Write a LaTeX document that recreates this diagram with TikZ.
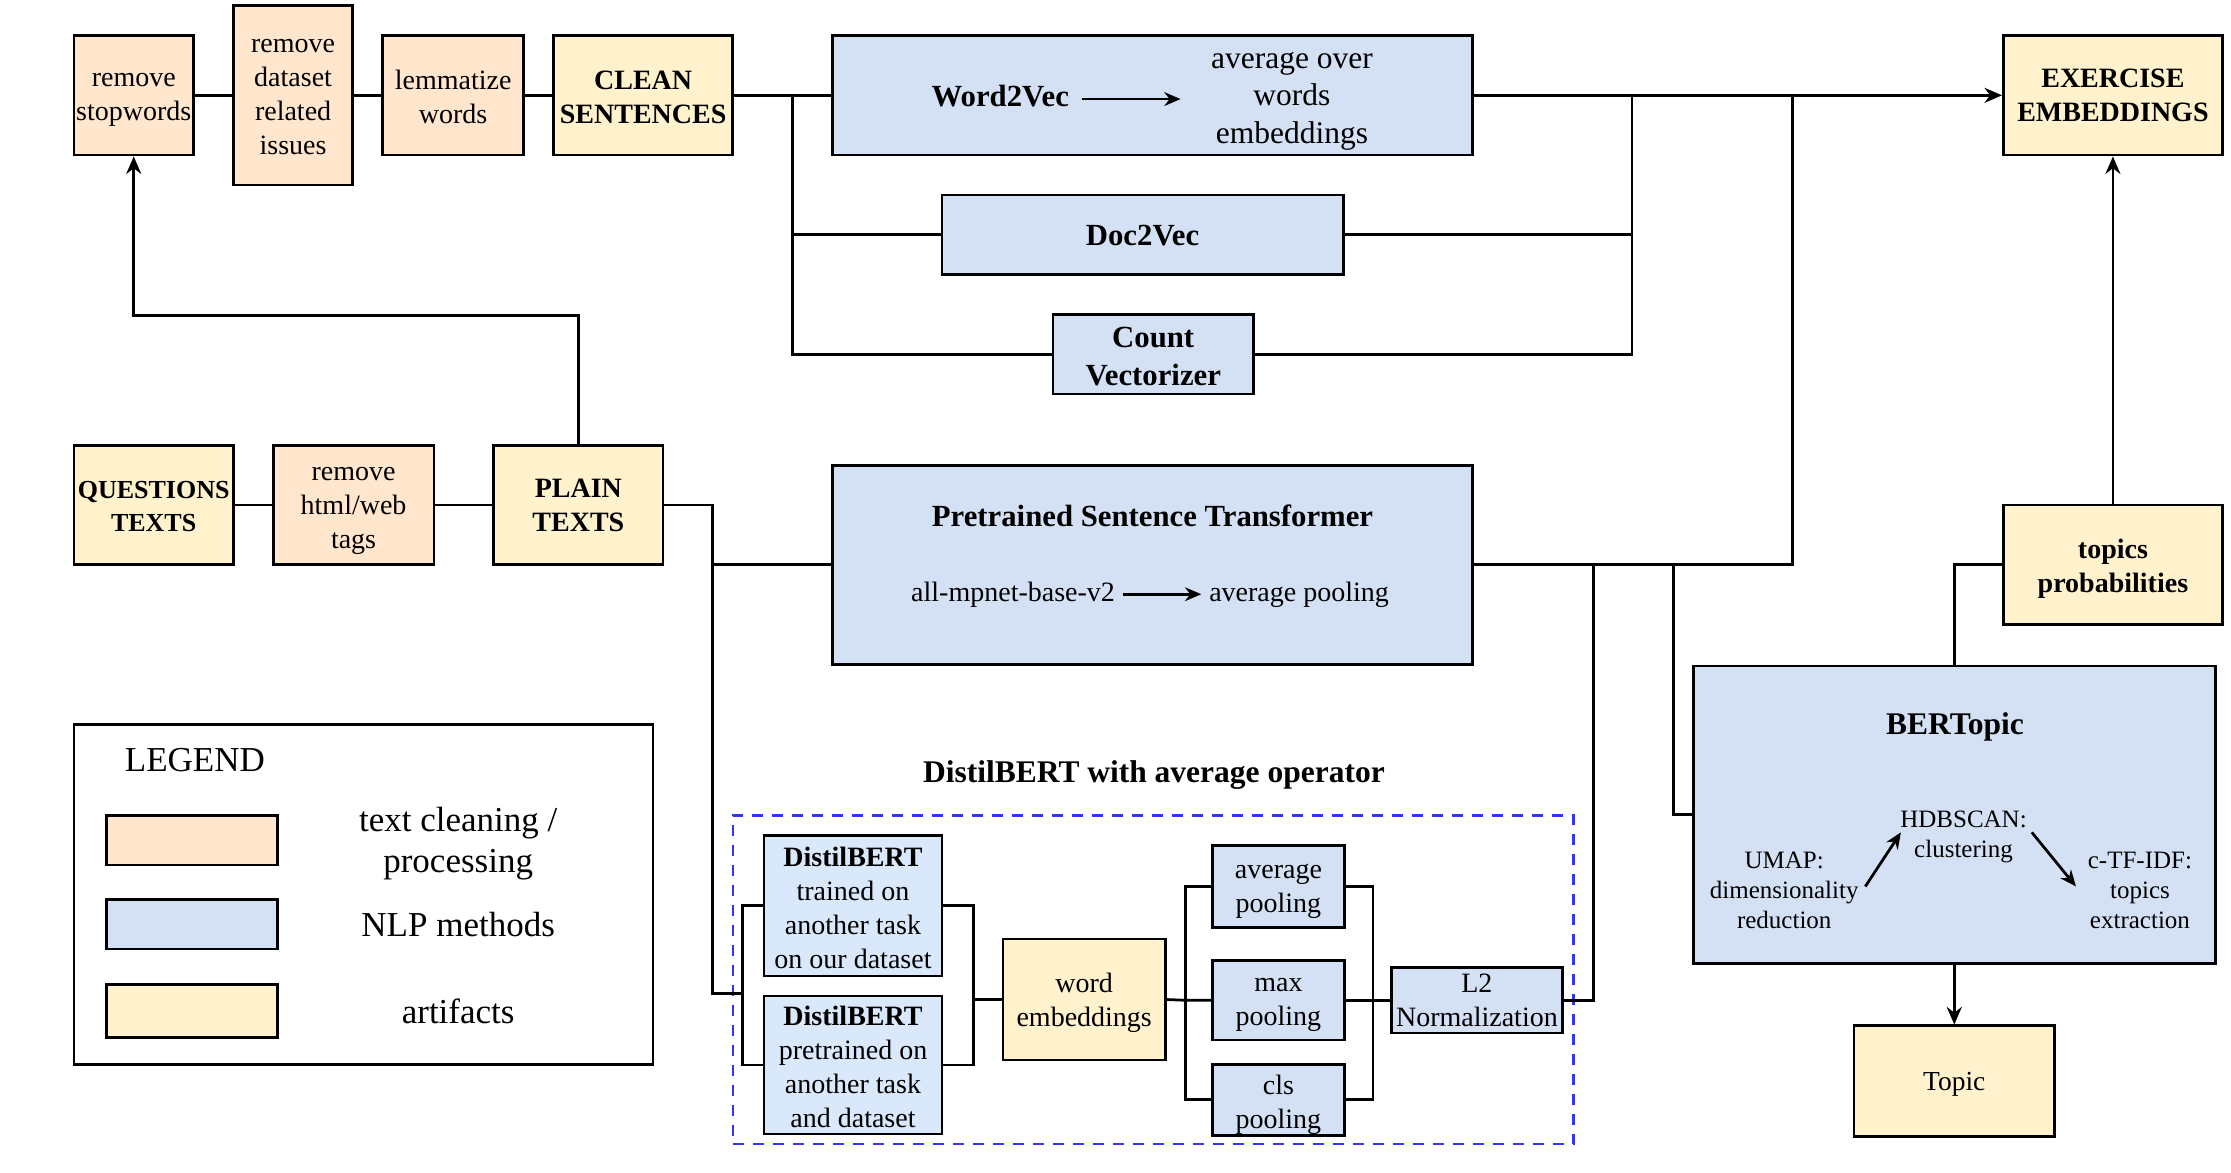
\documentclass[tikz,border=0pt]{standalone}
\usepackage{fontspec}
\setmainfont{Liberation Serif}
\usetikzlibrary{arrows.meta}
\definecolor{orf}{HTML}{FFE6CC}
\definecolor{blf}{HTML}{D4E1F5}
\definecolor{blf2}{HTML}{DAE8FC}
\definecolor{ylf}{HTML}{FFF2CC}
\definecolor{dashblue}{HTML}{3333FF}
\newcommand\fsA{\fontsize{11.2}{13.6}\selectfont}
\newcommand\fsB{\fontsize{12.3}{15.2}\selectfont}
\newcommand\fsW{\fontsize{12.6}{15}\selectfont}
\newcommand\fsQ{\fontsize{10.4}{13.2}\selectfont}
\newcommand\fsT{\fontsize{12.6}{15}\selectfont}
\newcommand\fsS{\fontsize{10}{12}\selectfont}
\newcommand\fsL{\fontsize{14}{16.5}\selectfont}
\newcommand\fsTp{\fontsize{11}{13}\selectfont}
% \bx[text shift]{name}{x1}{y1}{x2}{y2}{style}{text}
\newcommand\bx[8][-2.8pt]{%
  \node[#7, minimum width={(#5-#3)*0.02cm}, minimum height={(#6-#4)*0.02cm}] (#2) at ({(#3+#5)/2},{(#4+#6)/2}) {};
  \node[#7, draw=none, fill=none, minimum width=0pt, minimum height=0pt, yshift=#1] (#2t) at (#2.center) {#8};}
\begin{document}
\begin{tikzpicture}[x=0.02cm,y=-0.02cm,
  box/.style={draw, line width=1.1pt, align=center, inner sep=0pt, font=\fsA,
    execute at begin node=\strut, execute at end node=\strut},
  orb/.style={box, fill=orf},
  blb/.style={box, fill=blf},
  blb2/.style={box, fill=blf2},
  ylb/.style={box, fill=ylf},
  boldtxt/.style={font=\fsA\bfseries},
  wire/.style={line width=1.1pt},
  arr/.style={wire, -{Stealth[length=7pt,width=6pt]}},
  sarr/.style={line width=1.1pt, -{Stealth[length=6.5pt,width=5.5pt]}},
  txt/.style={align=center, inner sep=0pt, font=\fsA,
    execute at begin node=\strut, execute at end node=\strut},
  one/.style={yshift=-1.5pt},
  multi/.style={yshift=-2.6pt}
]
\fill[white] (0,0) rectangle (1568,824);
\useasboundingbox (0,0) rectangle (1568,824);

% top row
\bx{rs}{52}{25}{136}{109}{orb}{remove\\stopwords}
\bx{rd}{164}{4}{248}{130}{orb}{remove\\dataset\\related\\issues}
\bx{lw}{269}{25}{368}{109}{orb}{lemmatize\\words}
\bx{clean}{389}{25}{515}{109}{ylb,boldtxt}{CLEAN\\SENTENCES}
\bx{w2v}{585}{25}{1035}{109}{blb}{}
\bx[-1.1pt]{d2v}{662}{137}{944}{193}{blb,font=\fsB\bfseries}{Doc2Vec}
\bx[-3.2pt]{cv}{740}{221}{881}{277}{blb,font=\fsB\bfseries}{Count\\Vectorizer}
\bx[-2.2pt]{ex}{1408}{25}{1562}{109}{ylb,boldtxt}{EXERCISE\\EMBEDDINGS}

\node[txt,one,font=\fsB\bfseries] (w2vt) at (703,67) {Word2Vec};
\node[txt,multi,font=\fsW] (w2va) at (908,68) {average over\\words\\embeddings};
\draw[sarr] ([xshift=5pt]w2vt.east) -- ([xshift=-12pt]w2va.west |- w2vt.east);

% middle row
\bx[-2.3pt]{qt}{52}{313}{164}{397}{ylb,font=\fsQ\bfseries}{QUESTIONS\\TEXTS}
\bx[-3pt]{ht}{192}{313}{305}{397}{orb}{remove\\html/web\\tags}
\bx[-2.2pt]{pt}{347}{313}{466}{397}{ylb,boldtxt}{PLAIN\\TEXTS}
\bx{pst}{585}{327}{1035}{467}{blb}{}
\node[txt,one,font=\fsB\bfseries] (pstt) at (810,362) {Pretrained Sentence Transformer};
\node[txt,one] (mpn) at (712,415) {all-mpnet-base-v2};
\node[txt,one] (avp) at (913,415) {average pooling};
\draw[sarr] ([xshift=3pt]mpn.east) -- ([xshift=-3pt]avp.west);

% DistilBERT group
\bx{dbox}{515}{573}{1106}{804}{draw=dashblue, dash pattern=on 4.5pt off 3.5pt, line width=1pt}{}
\node[txt,one,font=\fsT\bfseries] (dtitle) at (811,542) {DistilBERT with average operator};
\bx{db1}{537}{587}{662}{686}{blb2}{\textbf{DistilBERT}\\trained on\\another task\\on our dataset}
\bx{db2}{537}{700}{662}{797}{blb2}{\textbf{DistilBERT}\\pretrained on\\another task\\and dataset}
\bx[-2.3pt]{we}{705}{660}{819}{745}{ylb}{word\\embeddings}
\bx{ap}{852}{594}{945}{652}{blb}{average\\pooling}
\bx{mp}{852}{675}{945}{731}{blb}{max\\pooling}
\bx{cp}{852}{748}{945}{798}{blb}{cls\\pooling}
\bx[-2.1pt]{l2}{978}{680}{1098}{726}{blb}{L2\\Normalization}

% BERTopic
\bx{bt}{1190}{468}{1557}{677}{blb}{}
\node[txt,one,font=\fsT\bfseries] (btt) at (1374,508) {BERTopic};
\node[txt,multi,font=\fsS] (umap) at (1254,624) {UMAP:\\dimensionality\\reduction};
\node[txt,multi,font=\fsS] (hdb) at (1380,585) {HDBSCAN:\\clustering};
\node[txt,multi,font=\fsS] (ctf) at (1504,624) {c-TF-IDF:\\topics\\extraction};
\coordinate (a1s) at (1311,623);
\coordinate (a1e) at (1336,585);
\coordinate (a2s) at (1428,585);
\coordinate (a2e) at (1459,623);
\draw[sarr] (a1s) -- (a1e);
\draw[sarr] (a2s) -- (a2e);
\bx[-2.6pt]{tp}{1408}{355}{1562}{439}{ylb,boldtxt}{topics\\probabilities}
\bx[-1.1pt]{tpc}{1303}{721}{1444}{799}{ylb,font=\fsTp}{Topic}

% legend
\bx{lg}{52}{509}{459}{748}{draw, line width=1.1pt}{}
\node[txt,one,font=\fsL] (lgt) at (137,534) {LEGEND};
\bx{s1}{75}{573}{195}{608}{orb}{}
\bx{s2}{75}{632}{195}{667}{blb}{}
\bx{s3}{75}{692}{195}{729}{ylb}{}
\node[txt,multi,font=\fsL] (l1) at (322,590) {text cleaning /\\processing};
\node[txt,one,font=\fsL] (l2t) at (322,650) {NLP methods};
\node[txt,one,font=\fsL] (l3) at (322,711) {artifacts};

% wires
\draw[wire] (rs.east) -- (rd.west);
\draw[wire] (rd.east) -- (lw.west);
\draw[wire] (lw.east) -- (clean.west);
\draw[wire] (clean.east) -- (w2v.west);
\coordinate (j1) at (557,67);
\draw[wire] (j1) |- (d2v.west);
\draw[wire] (j1) |- (cv.west);
\coordinate (j2) at (1147,67);
\draw[wire] (d2v.east) -| (j2);
\draw[wire] (cv.east) -| (j2);
\draw[arr] (w2v.east) -- (ex.west);
\coordinate (j3) at (1260,67);
\draw[wire] (pst.east) -| (j3);
\draw[wire] (qt.east) -- (ht.west);
\draw[wire] (ht.east) -- (pt.west);
\coordinate (t1) at (94,222);
\draw[arr] (pt.north) |- (t1) -- (rs.south);
\coordinate (j4) at (501,397);
\draw[wire] (pt.east) -| (j4) -- (pst.west);
\coordinate (lbr) at (522,698);
\draw[wire] (j4) |- (lbr);
\draw[wire] (db1.west) -| (lbr) |- (db2.west);
\coordinate (rbr) at (684,702.5);
\draw[wire] (db1.east) -| (rbr) |- (db2.east);
\draw[wire] (rbr) -- (we.west);
\coordinate (pl) at (833,703);
\draw[wire] (we.east) -- (pl) -- (mp.west);
\draw[wire] (ap.west) -| (pl) |- (cp.west);
\coordinate (pr) at (965,703);
\draw[wire] (ap.east) -| (pr) |- (cp.east);
\draw[wire] (mp.east) -- (pr) -- (l2.west);
\coordinate (j5) at (1120,397);
\draw[wire] (l2.east) -| (j5);
\coordinate (j6) at (1176,397);
\draw[wire] (j6) |- (bt.west);
\draw[wire] (bt.north) |- (tp.west);
\draw[arr] (tp.north) -- (ex.south);
\draw[arr] (bt.south) -- (tpc.north);
\end{tikzpicture}
\end{document}
